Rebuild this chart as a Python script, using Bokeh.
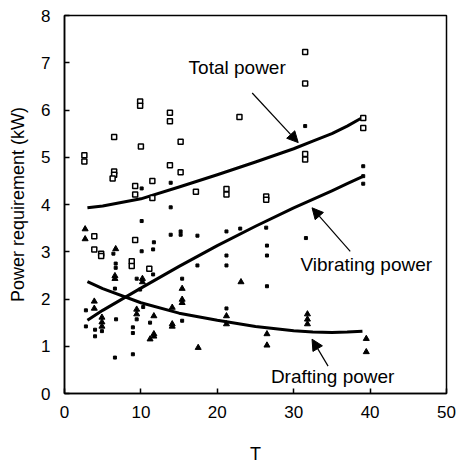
from bokeh.plotting import figure
from bokeh.models import Range1d, Arrow, NormalHead, ColumnDataSource, FixedTicker
from bokeh.core.properties import value
from bokeh.embed import file_html
from bokeh.resources import INLINE

# ---- data ----
total_x = [2.6, 2.6, 6.5, 6.5, 6.5, 6.3, 9.9, 9.9, 10.0, 9.25, 9.25, 11.5, 11.5, 13.8, 13.8, 13.8,
           15.2, 15.2, 17.2, 21.2, 21.2, 22.9, 26.4, 26.4, 31.5, 31.5, 31.5, 31.5, 39.1, 39.1,
           3.9, 3.9, 4.8, 4.8, 8.8, 8.8, 11.1, 9.25]
total_y = [5.04, 4.91, 5.43, 4.70, 4.63, 4.55, 6.18, 6.09, 5.23, 4.39, 4.21, 4.50, 4.14, 5.94, 5.76, 4.83,
           5.33, 4.68, 4.27, 4.33, 4.21, 5.85, 4.17, 4.10, 7.23, 6.56, 5.07, 4.95, 5.83, 5.62,
           3.33, 3.05, 2.96, 2.91, 2.80, 2.70, 2.64, 3.25]

vib_x = [10.1, 13.9, 13.9, 10.1, 13.9, 15.2, 15.2, 11.7, 10.1, 11.6, 6.7, 6.7, 11.6, 9.45, 9.9, 6.6,
         15.4, 2.8, 2.8, 4.0, 4.0, 4.9, 6.75, 6.6, 9.45, 8.95, 8.95, 8.95, 10.3, 11.2, 15.4,
         17.4, 21.2, 23.0, 26.4, 26.5, 26.5, 21.2, 21.2, 17.4, 26.5, 21.2, 31.6, 31.5,
         39.1, 39.1, 39.1, 6.4]
vib_y = [4.34, 4.46, 3.94, 3.65, 3.36, 3.43, 3.36, 3.20, 3.01, 3.05, 2.75, 2.66, 2.52, 2.43, 2.20, 2.22,
         2.43, 1.76, 1.42, 1.35, 1.21, 1.32, 1.57, 0.76, 1.57, 1.40, 1.28, 0.83, 1.83, 1.50, 1.54,
         3.34, 3.43, 3.49, 3.51, 3.13, 2.92, 2.92, 2.71, 2.71, 2.27, 1.80, 3.29, 5.66,
         4.81, 4.60, 4.44, 2.96]

draft_x = [2.7, 2.7, 6.7, 6.6, 6.6, 10.2, 10.2, 15.4, 15.4, 15.4, 3.9, 3.9, 4.9, 4.9, 4.9,
           9.45, 9.45, 11.7, 11.7, 11.7, 11.2, 14.1, 14.1, 14.1, 17.5, 21.2, 21.2, 23.1,
           26.5, 26.5, 31.8, 31.8, 31.8, 39.5, 39.5]
draft_y = [3.48, 3.27, 3.06, 2.49, 2.43, 2.43, 2.36, 2.22, 1.99, 1.92, 1.95, 1.80, 1.61, 1.51, 1.42,
           1.78, 1.68, 1.64, 1.26, 1.21, 1.15, 1.82, 1.47, 1.42, 0.97, 1.64, 1.47, 2.36,
           1.26, 1.02, 1.68, 1.57, 1.47, 1.16, 0.88]

curve_x = [3, 5, 10, 15, 20, 25, 30, 32.5, 35, 37, 39]
total_curve = [3.93, 3.97, 4.12, 4.37, 4.63, 4.90, 5.18, 5.34, 5.50, 5.66, 5.84]
vib_curve = [1.55, 1.76, 2.23, 2.69, 3.13, 3.54, 3.93, 4.11, 4.29, 4.44, 4.59]
draft_curve = [2.37, 2.22, 1.92, 1.70, 1.55, 1.42, 1.33, 1.30, 1.29, 1.30, 1.32]

x_ticks = [0, 10, 20, 30, 40, 50]
y_ticks = [0, 1, 2, 3, 4, 5, 6, 7, 8]

FONT = "Liberation Sans"

p = figure(width=458, height=466, output_backend="svg", toolbar_location=None,
           x_range=Range1d(0, 50), y_range=Range1d(0, 8),
           min_border_left=64, min_border_right=12, min_border_top=15, min_border_bottom=72)
p.background_fill_color = "white"
p.border_fill_color = "white"
p.outline_line_color = "black"
p.outline_line_width = 1.5
p.grid.visible = False

for ax in (p.xaxis[0], p.yaxis[0]):
    ax.axis_line_color = "black"
    ax.axis_line_width = 1.5
    ax.major_tick_in = 5
    ax.major_tick_out = 0
    ax.minor_tick_in = 0
    ax.minor_tick_out = 0
    ax.major_tick_line_color = "black"
    ax.major_tick_line_width = 1.5
    ax.major_label_text_font = FONT
    ax.major_label_text_font_size = "17px"
    ax.major_label_text_color = "black"
    ax.axis_label_text_font = FONT
    ax.axis_label_text_font_size = "18px"
    ax.axis_label_text_font_style = "normal"
    ax.axis_label_text_color = "black"

p.xaxis.ticker = FixedTicker(ticks=x_ticks)
p.yaxis.ticker = FixedTicker(ticks=y_ticks)
p.xaxis.axis_label = "T"
p.yaxis.axis_label = "Power requirement (kW)"
p.xaxis.major_label_standoff = 12
p.yaxis.major_label_standoff = 14
p.xaxis.axis_label_standoff = 23
p.yaxis.axis_label_standoff = 10

# fitted curves
for cy in (total_curve, vib_curve, draft_curve):
    p.line(curve_x, cy, line_color="black", line_width=3, line_join="round")

# points
p.scatter(total_x, total_y, marker="square", size=5, fill_color="white",
          line_color="black", line_width=1.5)
p.scatter(vib_x, vib_y, marker="square", size=3, fill_color="black", line_color="black")
p.scatter(draft_x, draft_y, marker="triangle", size=6, fill_color="black", line_color="black")

# annotations
lab = ColumnDataSource(dict(x=[22.6, 39.5, 35.1], y=[6.89, 2.73, 0.37],
                            t=["Total power", "Vibrating power", "Drafting power"]))
p.text(x="x", y="y", text="t", source=lab, text_align="center", text_baseline="middle",
       text_font=value(FONT), text_font_size="19px", text_color="black")

arrows = [((24.57, 6.36), (30.59, 5.31)),
          ((37.4, 3.01), (32.4, 3.93)),
          ((34.5, 0.58), (32.4, 1.15))]
for (xs, ys), (xe, ye) in arrows:
    p.add_layout(Arrow(end=NormalHead(size=11, fill_color="black", line_color="black"),
                       x_start=xs, y_start=ys, x_end=xe, y_end=ye,
                       line_color="black", line_width=1.2))

open("out.html", "w").write(file_html(p, INLINE))
